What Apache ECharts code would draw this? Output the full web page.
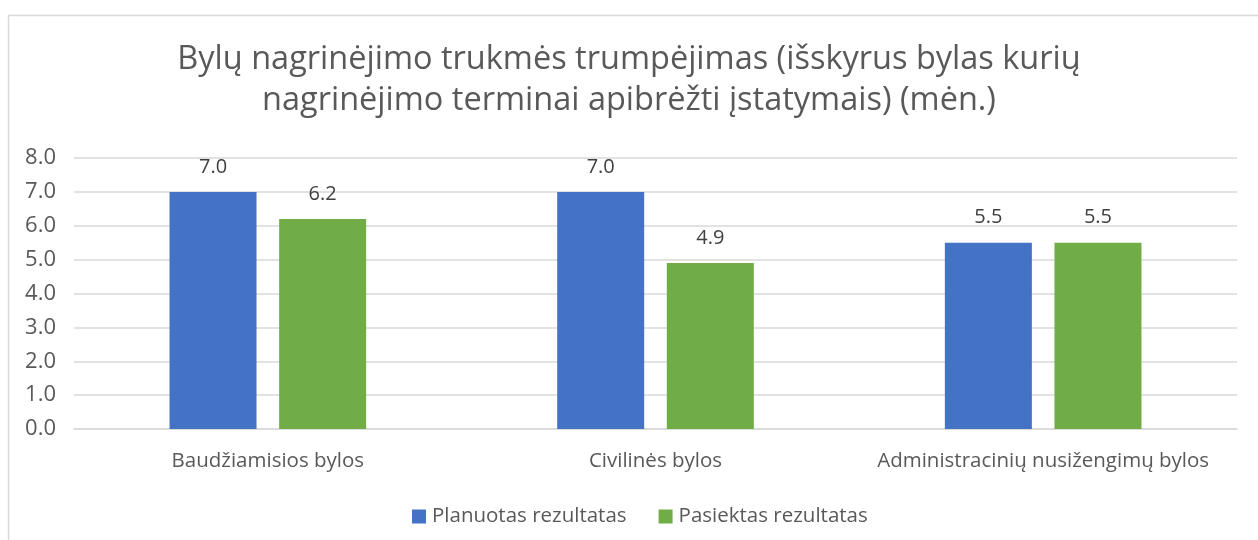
<!DOCTYPE html>
<html>
<head>
<meta charset="utf-8">
<script src="https://cdn.jsdelivr.net/npm/echarts@6/dist/echarts.min.js"></script>
<style>
  html, body { margin: 0; padding: 0; background: #fff; }
  #chart { width: 1258px; height: 540px; }
</style>
</head>
<body>
<div id="chart"></div>
<script>
// Bylų nagrinėjimo trukmė — planuota vs pasiekta
const categories = ['Baudžiamisios bylos', 'Civilinės bylos', 'Administracinių nusižengimų bylos']
const planned = [7.0, 7.0, 5.5]
const achieved = [6.2, 4.9, 5.5]
const seriesNames = ['Planuotas rezultatas', 'Pasiektas rezultatas']

const FONT = '"Open Sans", "Noto Sans", sans-serif'
const TEXT = '#595959'

const chart = echarts.init(document.getElementById('chart'))
chart.setOption({
  animation: false,
  textStyle: { fontFamily: FONT },
  graphic: [{
    type: 'rect',
    shape: { x: 8.5, y: 15.5, width: 1300, height: 600 },
    style: { fill: 'none', stroke: '#d9d9d9', lineWidth: 1.5 },
    silent: true,
  }],
  title: {
    text: 'Bylų nagrinėjimo trukmės trumpėjimas (išskyrus bylas kurių\nnagrinėjimo terminai apibrėžti įstatymais) (mėn.)',
    left: 'center',
    top: 34,
    textStyle: { color: TEXT, fontSize: 32.5, fontWeight: 'normal', lineHeight: 41, fontFamily: FONT },
  },
  legend: {
    data: seriesNames,
    bottom: 8,
    left: 407,
    icon: 'rect',
    itemWidth: 14,
    itemHeight: 14,
    itemGap: 32,
    textStyle: { color: TEXT, fontSize: 20.5, padding: [0, 0, 0, 1] },
  },
  grid: { left: 74, right: 21, top: 158, bottom: 111, containLabel: false },
  xAxis: {
    type: 'category',
    data: categories,
    axisTick: { show: false },
    axisLine: { lineStyle: { color: '#d9d9d9', width: 1.5 } },
    axisLabel: { color: TEXT, fontSize: 20.5, margin: 22, interval: 0 },
  },
  yAxis: {
    type: 'value',
    min: 0,
    max: 8,
    interval: 1,
    axisLine: { show: false },
    axisTick: { show: false },
    splitLine: { lineStyle: { color: '#d9d9d9', width: 1.5 } },
    axisLabel: { color: TEXT, fontSize: 22, margin: 18, formatter: v => v.toFixed(1) },
  },
  series: [
    {
      name: seriesNames[0],
      type: 'bar',
      data: planned,
      barWidth: 87,
      barGap: '26%',
      itemStyle: { color: '#4472c4' },
      label: { show: true, position: 'top', distance: 15, color: '#404040', fontSize: 20, formatter: p => p.value.toFixed(1) },
    },
    {
      name: seriesNames[1],
      type: 'bar',
      data: achieved,
      barWidth: 87,
      itemStyle: { color: '#70ad47' },
      label: { show: true, position: 'top', distance: 15, color: '#404040', fontSize: 20, formatter: p => p.value.toFixed(1) },
    },
  ],
})
</script>
</body>
</html>
